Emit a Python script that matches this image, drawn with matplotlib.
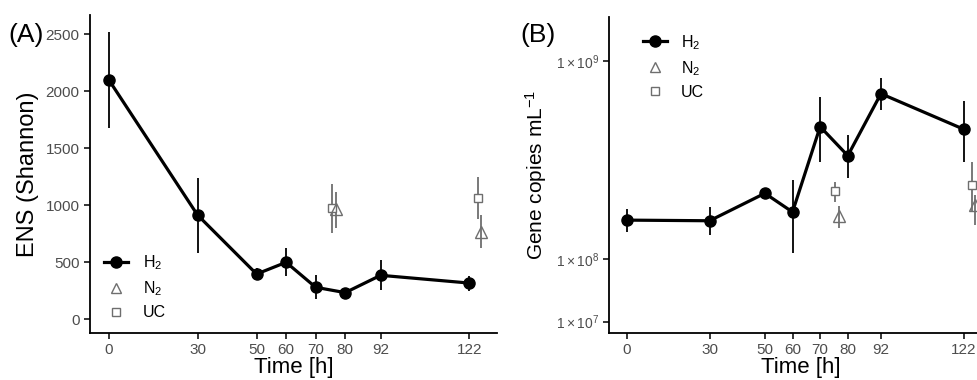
import matplotlib
matplotlib.use('Agg')
import matplotlib.pyplot as plt
from matplotlib.lines import Line2D
import numpy as np

plt.rcParams['font.family'] = ['Liberation Sans', 'DejaVu Sans']
plt.rcParams['mathtext.fontset'] = 'custom'
plt.rcParams['mathtext.rm'] = 'Liberation Sans'
plt.rcParams['mathtext.it'] = 'Liberation Sans:italic'

# time points
time_h2 = [0, 30, 50, 60, 70, 80, 92, 122]
time_uc = [75.5, 125]
time_n2 = [77, 126]
time_ticks = [0, 30, 50, 60, 70, 80, 92, 122]

# panel A: ENS (Shannon), mean / low / high
ens_h2 = [2099, 915, 397, 500, 281, 234, 386, 318]
ens_h2_lo = [1681, 584, 351, 380, 175, 193, 257, 251]
ens_h2_hi = [2523, 1242, 447, 623, 386, 272, 520, 380]
ens_uc = [974, 1067]
ens_uc_lo = [760, 880]
ens_uc_hi = [1187, 1251]
ens_n2 = [965, 768]
ens_n2_lo = [804, 623]
ens_n2_hi = [1119, 915]

# panel B: gene copies per mL
gc_h2 = [2.03e8, 2.01e8, 2.95e8, 2.29e8, 5.98e8, 4.53e8, 7.87e8, 5.84e8]
gc_h2_lo = [1.69e8, 1.59e8, 2.85e8, 1.14e8, 4.26e8, 3.54e8, 6.90e8, 4.23e8]
gc_h2_hi = [2.39e8, 2.45e8, 3.05e8, 3.47e8, 7.69e8, 5.54e8, 8.84e8, 7.45e8]
gc_uc = [3.04e8, 3.27e8]
gc_uc_lo = [2.64e8, 2.30e8]
gc_uc_hi = [3.40e8, 4.23e8]
gc_n2 = [2.16e8, 2.53e8]
gc_n2_lo = [1.78e8, 1.88e8]
gc_n2_hi = [2.49e8, 2.89e8]

gc_ticks = [1e7, 1e8, 1e9]
gc_tick_labels = [r'$1\times10^{7}$', r'$1\times10^{8}$', r'$1\times10^{9}$']

GREY = '#6e6e6e'
TICK = '#4d4d4d'


def errs(v, lo, hi):
    v = np.array(v)
    return [v - np.array(lo), np.array(hi) - v]


def style_axes(ax):
    for s in ['top', 'right']:
        ax.spines[s].set_visible(False)
    for s in ['left', 'bottom']:
        ax.spines[s].set_linewidth(1.3)
    ax.tick_params(direction='out', length=4, width=1.1, colors='black',
                   labelcolor=TICK, labelsize=11)
    ax.set_xticks(time_ticks)
    ax.set_xlabel('Time [h]', fontsize=16, labelpad=0)


def draw(ax, y, lo, hi, yu, ulo, uhi, yn, nlo, nhi):
    ax.errorbar(time_h2, y, yerr=errs(y, lo, hi), color='black', lw=2.3,
                marker='o', ms=8, elinewidth=1.3, capsize=0, zorder=3)
    ax.errorbar(time_uc, yu, yerr=errs(yu, ulo, uhi), color=GREY, ls='none',
                marker='s', ms=6, mfc='white', mew=1.0, elinewidth=1.3, capsize=0)
    ax.errorbar(time_n2, yn, yerr=errs(yn, nlo, nhi), color=GREY, ls='none',
                marker='^', ms=8, mfc='none', mew=1.0, elinewidth=1.3, capsize=0)


def legend_handles():
    return [
        Line2D([], [], color='black', lw=2.3, marker='o', ms=8, label='H$_2$'),
        Line2D([], [], color=GREY, ls='none', marker='^', ms=7, mfc='none', mew=1.0, label='N$_2$'),
        Line2D([], [], color=GREY, ls='none', marker='s', ms=6, mfc='none', mew=1.0, label='UC'),
    ]


W, H = 977, 380
fig = plt.figure(figsize=(W / 100, H / 100), dpi=100)

# panel A
axA = fig.add_axes([90 / W, 1 - 333 / H, 407 / W, 318 / H])
draw(axA, ens_h2, ens_h2_lo, ens_h2_hi, ens_uc, ens_uc_lo, ens_uc_hi,
     ens_n2, ens_n2_lo, ens_n2_hi)
style_axes(axA)
axA.set_xlim(-6.4, 131.4)
axA.set_ylim(-120, 2669)
axA.set_yticks([0, 500, 1000, 1500, 2000, 2500])
axA.set_ylabel('ENS (Shannon)', fontsize=17, labelpad=5)
axA.legend(handles=legend_handles(), loc='lower left', bbox_to_anchor=(0.0, -0.005),
           frameon=False, fontsize=11.5, handlelength=1.5, handletextpad=0.9,
           labelspacing=0.45)
fig.text(8 / W, 1 - 35 / H, '(A)', fontsize=19, va='center', ha='left')

# panel B (sqrt scale)
axB = fig.add_axes([609.3 / W, 1 - 333 / H, 383 / W, 316 / H])
axB.set_yscale('function', functions=(lambda v: np.sqrt(np.clip(v, 0, None)),
                                      lambda v: np.square(v)))
draw(axB, gc_h2, gc_h2_lo, gc_h2_hi, gc_uc, gc_uc_lo, gc_uc_hi,
     gc_n2, gc_n2_lo, gc_n2_hi)
style_axes(axB)
axB.set_xlim(-6.3, 132.3)
axB.set_ylim(3.69e6, 1.327e9)
axB.set_yticks(gc_ticks)
axB.set_yticklabels(gc_tick_labels)
axB.tick_params(axis='y', labelsize=10)
axB.set_ylabel('Gene copies mL$^{-1}$', fontsize=15, labelpad=5)
axB.legend(handles=legend_handles(), loc='upper left', bbox_to_anchor=(0.05, 0.995),
           frameon=False, fontsize=11.5, handlelength=1.5, handletextpad=0.9,
           labelspacing=0.45)
fig.text(520 / W, 1 - 35 / H, '(B)', fontsize=19, va='center', ha='left')

fig.savefig('out.png', dpi=100)
